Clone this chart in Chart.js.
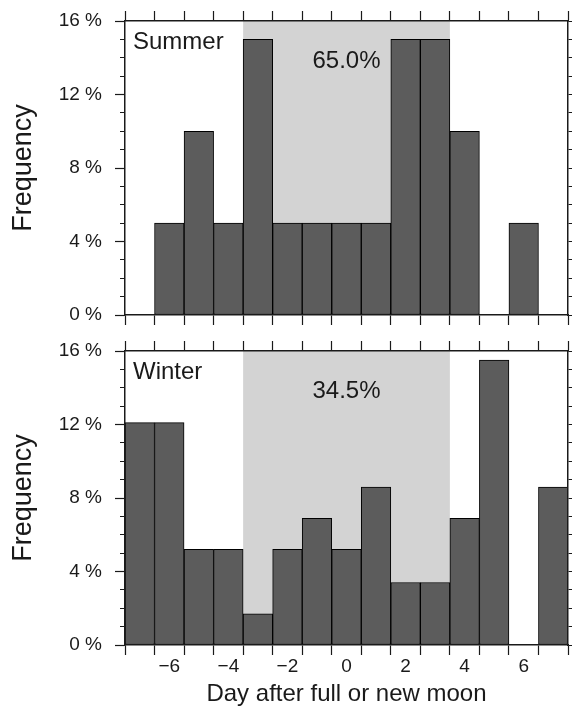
<!DOCTYPE html>
<html>
<head>
<meta charset="utf-8">
<script src="https://cdn.jsdelivr.net/npm/chart.js@4/dist/chart.umd.min.js"></script>
<style>
  html, body { margin: 0; padding: 0; background: #fff; overflow: hidden; }
  #wrap { position: relative; width: 573px; height: 706px; }
  canvas { position: absolute; left: 0; }
  #summerChart { top: 0; }
  #winterChart { top: 330px; }
</style>
</head>
<body>
<div id="wrap">
  <canvas id="summerChart" width="573" height="330"></canvas>
  <canvas id="winterChart" width="573" height="380"></canvas>
</div>
<script>
// Day bins (days after full or new moon)
const days = [-7, -6, -5, -4, -3, -2, -1, 0, 1, 2, 3, 4, 5, 6, 7];

// Frequency (%) per day bin
const summerFreq = [0, 5, 10, 5, 15, 5, 5, 5, 5, 15, 15, 10, 0, 5, 0];
const winterFreq = [12.1, 12.1, 5.2, 5.2, 1.7, 5.2, 6.9, 5.2, 8.6, 3.4, 3.4, 6.9, 15.5, 0, 8.6];

// Shaded window around the moon phase and the share inside it
const shadeRange = [-3.5, 3.5];
const summerShare = "65.0%";
const winterShare = "34.5%";

// Axis ticks
const xLabelDays = [-6, -4, -2, 0, 2, 4, 6];
const yMajorTicks = [0, 4, 8, 12, 16];

Chart.defaults.font.family = "'Liberation Sans', Arial, Helvetica, sans-serif";
Chart.defaults.color = "#1a1a1a";

const INK = "#1a1a1a";
const BAR = "#5c5c5c";
const SHADE = "#d3d3d3";

// bin edges get the tick marks, even days get the labels
const binEdges = days.map(d => d - 0.5).concat([days[days.length - 1] + 0.5]);
const xTickValues = binEdges.concat(xLabelDays).sort((a, b) => a - b);
const isEdge = v => binEdges.includes(v);

// fixed axis box sizes, and no extra room for overhanging labels
function fixSize(width, height) {
  return s => {
    if (width !== null) s.width = width;
    if (height !== null) s.height = height;
    s.paddingTop = s.paddingBottom = s.paddingLeft = s.paddingRight = 0;
  };
}

// Grey window behind the bars
const shadePlugin = {
  id: "shade",
  beforeDatasetsDraw(chart) {
    const { ctx, chartArea, scales } = chart;
    const x0 = scales.x.getPixelForValue(shadeRange[0]);
    const x1 = scales.x.getPixelForValue(shadeRange[1]);
    ctx.save();
    ctx.fillStyle = SHADE;
    ctx.fillRect(x0, chartArea.top, x1 - x0, chartArea.bottom - chartArea.top);
    ctx.restore();
  }
};

// Season name and share text
const panelTextPlugin = {
  id: "panelText",
  afterDatasetsDraw(chart, args, opts) {
    const { ctx, chartArea, scales } = chart;
    ctx.save();
    ctx.fillStyle = INK;
    ctx.font = "24px 'Liberation Sans', Arial, sans-serif";
    ctx.textBaseline = "alphabetic";
    ctx.textAlign = "left";
    ctx.fillText(opts.season, chartArea.left + 8, chartArea.top + 28);
    ctx.textAlign = "center";
    ctx.fillText(opts.share, scales.x.getPixelForValue(0), chartArea.top + 47);
    ctx.restore();
  }
};

function xAxis(position, showLabels) {
  return {
    type: "linear",
    position,
    min: -7.5,
    max: 7.5,
    offset: false,
    afterBuildTicks: s => { s.ticks = xTickValues.map(v => ({ value: v })); },
    afterFit: fixSize(null, showLabels ? 65 : 10),
    grid: {
      drawOnChartArea: false,
      offset: false,
      tickLength: 10,
      tickWidth: 1.2,
      tickColor: c => (c.tick && isEdge(c.tick.value) ? INK : "rgba(0,0,0,0)")
    },
    border: { color: INK, width: 1.5, z: 1 },
    ticks: {
      display: showLabels,
      autoSkip: false,
      maxRotation: 0,
      padding: 0,
      color: INK,
      font: { size: 19 },
      callback: v => (xLabelDays.includes(v) ? (v < 0 ? "\u2212" + Math.abs(v) : String(v)) : "")
    },
    title: {
      display: showLabels,
      text: "Day after full or new moon",
      color: INK,
      font: { size: 24 },
      padding: { top: 0, bottom: 1 }
    }
  };
}

function buildPanel(canvasId, season, freq, share, isBottom) {
  const canvas = document.getElementById(canvasId);
  const ctx = canvas.getContext("2d");

  return new Chart(ctx, {
    type: "bar",
    data: {
      datasets: [
        {
          label: season,
          data: days.map((d, i) => ({ x: d, y: freq[i] })),
          backgroundColor: BAR,
          borderColor: "#000",
          borderWidth: 1,
          borderSkipped: false,
          // flex: width from neighbouring bins, so bars touch
          barThickness: "flex",
          barPercentage: 1,
          categoryPercentage: 1
        }
      ]
    },
    options: {
      responsive: false,
      animation: false,
      devicePixelRatio: 1,
      layout: { padding: { top: 11, bottom: isBottom ? 0 : 5, left: 0, right: 0 } },
      plugins: {
        legend: { display: false },
        tooltip: { enabled: false },
        panelText: { season, share }
      },
      scales: {
        x: xAxis("bottom", isBottom),
        x2: xAxis("top", false),
        y: {
          type: "linear",
          position: "left",
          weight: 1,
          min: 0,
          max: 16,
          afterBuildTicks: s => { s.ticks = yMajorTicks.map(v => ({ value: v })); },
          afterFit: fixSize(125, null),
          grid: { drawOnChartArea: false, tickLength: 10, tickWidth: 1.2, tickColor: INK },
          border: { color: INK, width: 1.5, z: 1 },
          ticks: { padding: 13, color: INK, font: { size: 19 }, callback: v => v + " %" },
          title: {
            display: true,
            text: "Frequency",
            color: INK,
            font: { size: 27 },
            padding: { top: 7, bottom: 0 }
          }
        },
        // short minor ticks every 1 %, laid over the labelled axis
        yMinor: {
          type: "linear",
          position: "left",
          weight: 0,
          min: 0,
          max: 16,
          afterFit: fixSize(0, null),
          grid: { drawOnChartArea: false, tickLength: 5, tickWidth: 1, tickColor: INK },
          border: { display: false },
          ticks: { stepSize: 1, display: false }
        },
        yRight: {
          type: "linear",
          position: "right",
          min: 0,
          max: 16,
          afterFit: fixSize(5, null),
          grid: { drawOnChartArea: false, tickLength: 4, tickWidth: 1, tickColor: INK },
          border: { color: INK, width: 1.5, z: 1 },
          ticks: { stepSize: 1, display: false }
        }
      }
    },
    plugins: [shadePlugin, panelTextPlugin]
  });
}

buildPanel("summerChart", "Summer", summerFreq, summerShare, false);
buildPanel("winterChart", "Winter", winterFreq, winterShare, true);
</script>
</body>
</html>
